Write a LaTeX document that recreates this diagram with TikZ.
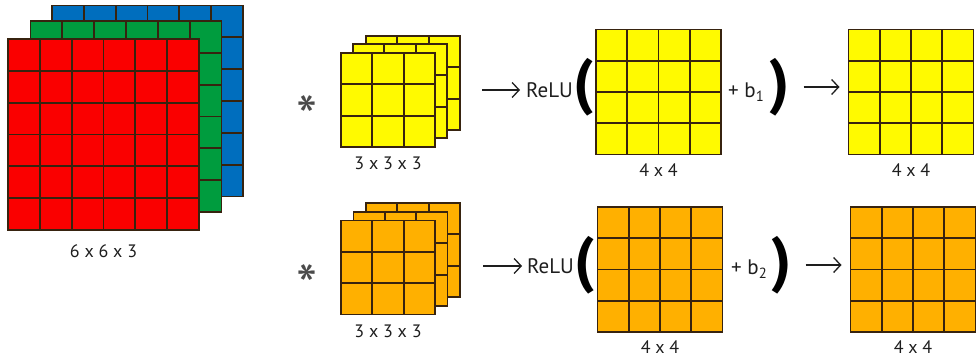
\documentclass[tikz,border=0pt]{standalone}
\usepackage{fontspec}
\setmainfont{PT Sans}
\usepackage{tikz}
\usetikzlibrary{arrows.meta, positioning, calc}

\definecolor{chred}{RGB}{250,0,0}
\definecolor{chgreen}{RGB}{0,156,62}
\definecolor{chblue}{RGB}{0,110,190}
\definecolor{kyellow}{RGB}{255,250,0}
\definecolor{korange}{RGB}{255,176,0}
\definecolor{gridc}{RGB}{55,35,15}
\definecolor{txtc}{RGB}{30,30,30}

\begin{document}
\begin{tikzpicture}[
    x=1pt, y=-1pt,
    font=\fontsize{18}{18}\selectfont,
    gridln/.style={draw=gridc, line width=1.8pt},
    cells/.style={path picture={
        \foreach \k in {1,...,#1} {
            \draw[gridln] ($(path picture bounding box.north west)!\k/#1!(path picture bounding box.north east)$) -- ($(path picture bounding box.south west)!\k/#1!(path picture bounding box.south east)$);
            \draw[gridln] ($(path picture bounding box.north west)!\k/#1!(path picture bounding box.south west)$) -- ($(path picture bounding box.north east)!\k/#1!(path picture bounding box.south east)$);
        }}},
    fmap/.style={draw=gridc, line width=1.6pt, inner sep=0pt, outer sep=0pt},
    inmap/.style={fmap, cells=6, minimum size=191},
    kern/.style={fmap, cells=3, minimum size=94},
    omap/.style={fmap, cells=4, minimum size=125},
    dim/.style={text=txtc, inner sep=0pt},
    relu/.style={text=txtc, inner sep=0pt, font=\fontsize{21}{21}\selectfont},
    bias/.style={text=txtc, inner sep=0pt, font=\fontsize{21}{21}\selectfont},
    paren/.style={text=black, inner sep=0pt, font=\fontsize{62}{62}\selectfont\bfseries},
    star/.style={text=txtc!80, inner sep=0pt, font=\fontsize{60}{60}\selectfont},
    arrow/.style={-{Straight Barb[length=7pt, width=15pt]}, line width=1.3pt, draw=txtc}
]
    \useasboundingbox (0,0) rectangle (976,361);

    % Input channels
    \node[inmap, fill=chblue] (ch3) at (147.5,101) {};
    \node[inmap, fill=chgreen] (ch2) at (126,116.5) {};
    \node[inmap, fill=chred] (ch1) at (103.5,134.5) {};
    \node[dim, below=14pt of ch1] (lin) {6 x 6 x 3};

    % First filter
    \node[star] (sa) at (307,117) {*};
    \node[kern, fill=kyellow] (ka3) at (413,83) {};
    \node[kern, fill=kyellow] (ka2) at (400,91) {};
    \node[kern, fill=kyellow] (ka1) at (388,100) {};
    \node[dim, below=10pt of ka1] (lka) {3 x 3 x 3};

    % First feature map
    \node[relu, anchor=west] (relua) at (526,90) {ReLU};
    \node[omap, fill=kyellow] (za) at (658.5,92) {};
    \node[dim, below=9pt of za] (lza) {4 x 4};
    \node[paren, anchor=east] (lpa) at (594,87) {(};
    \node[bias, anchor=west] (ba) at (728,92) {+ b\textsubscript{1}};
    \node[paren, anchor=west] (rpa) at (769,87) {)};
    \node[omap, fill=kyellow] (ya) at (911,92) {};
    \node[dim, below=9pt of ya] (lya) {4 x 4};

    % Second filter
    \node[star] (sb) at (307,286) {*};
    \node[kern, fill=korange] (kb3) at (413,250) {};
    \node[kern, fill=korange] (kb2) at (400.5,259) {};
    \node[kern, fill=korange] (kb1) at (388,267.5) {};
    \node[dim, below=10pt of kb1] (lkb) {3 x 3 x 3};

    % Second feature map
    \node[relu, anchor=west] (relub) at (527,266) {ReLU};
    \node[omap, fill=korange] (zb) at (660,269.5) {};
    \node[dim, below=8pt of zb] (lzb) {4 x 4};
    \node[paren, anchor=east] (lpb) at (595,265) {(};
    \node[bias, anchor=west] (bb) at (731,269) {+ b\textsubscript{2}};
    \node[paren, anchor=west] (rpb) at (771,265) {)};
    \node[omap, fill=korange] (yb) at (913,269.5) {};
    \node[dim, below=8pt of yb] (lyb) {4 x 4};

    % Connections
    \draw[arrow, shorten <=22pt, shorten >=6pt] (relua.west -| ka3.east) -- (relua.west);
    \draw[arrow, shorten <=14pt, shorten >=9pt] (rpa.east) -- (rpa.east -| ya.west);
    \draw[arrow, shorten <=23pt, shorten >=5pt] (relub.west -| kb3.east) -- (relub.west);
    \draw[arrow, shorten <=14pt, shorten >=9pt] (rpb.east) -- (rpb.east -| yb.west);
\end{tikzpicture}
\end{document}
